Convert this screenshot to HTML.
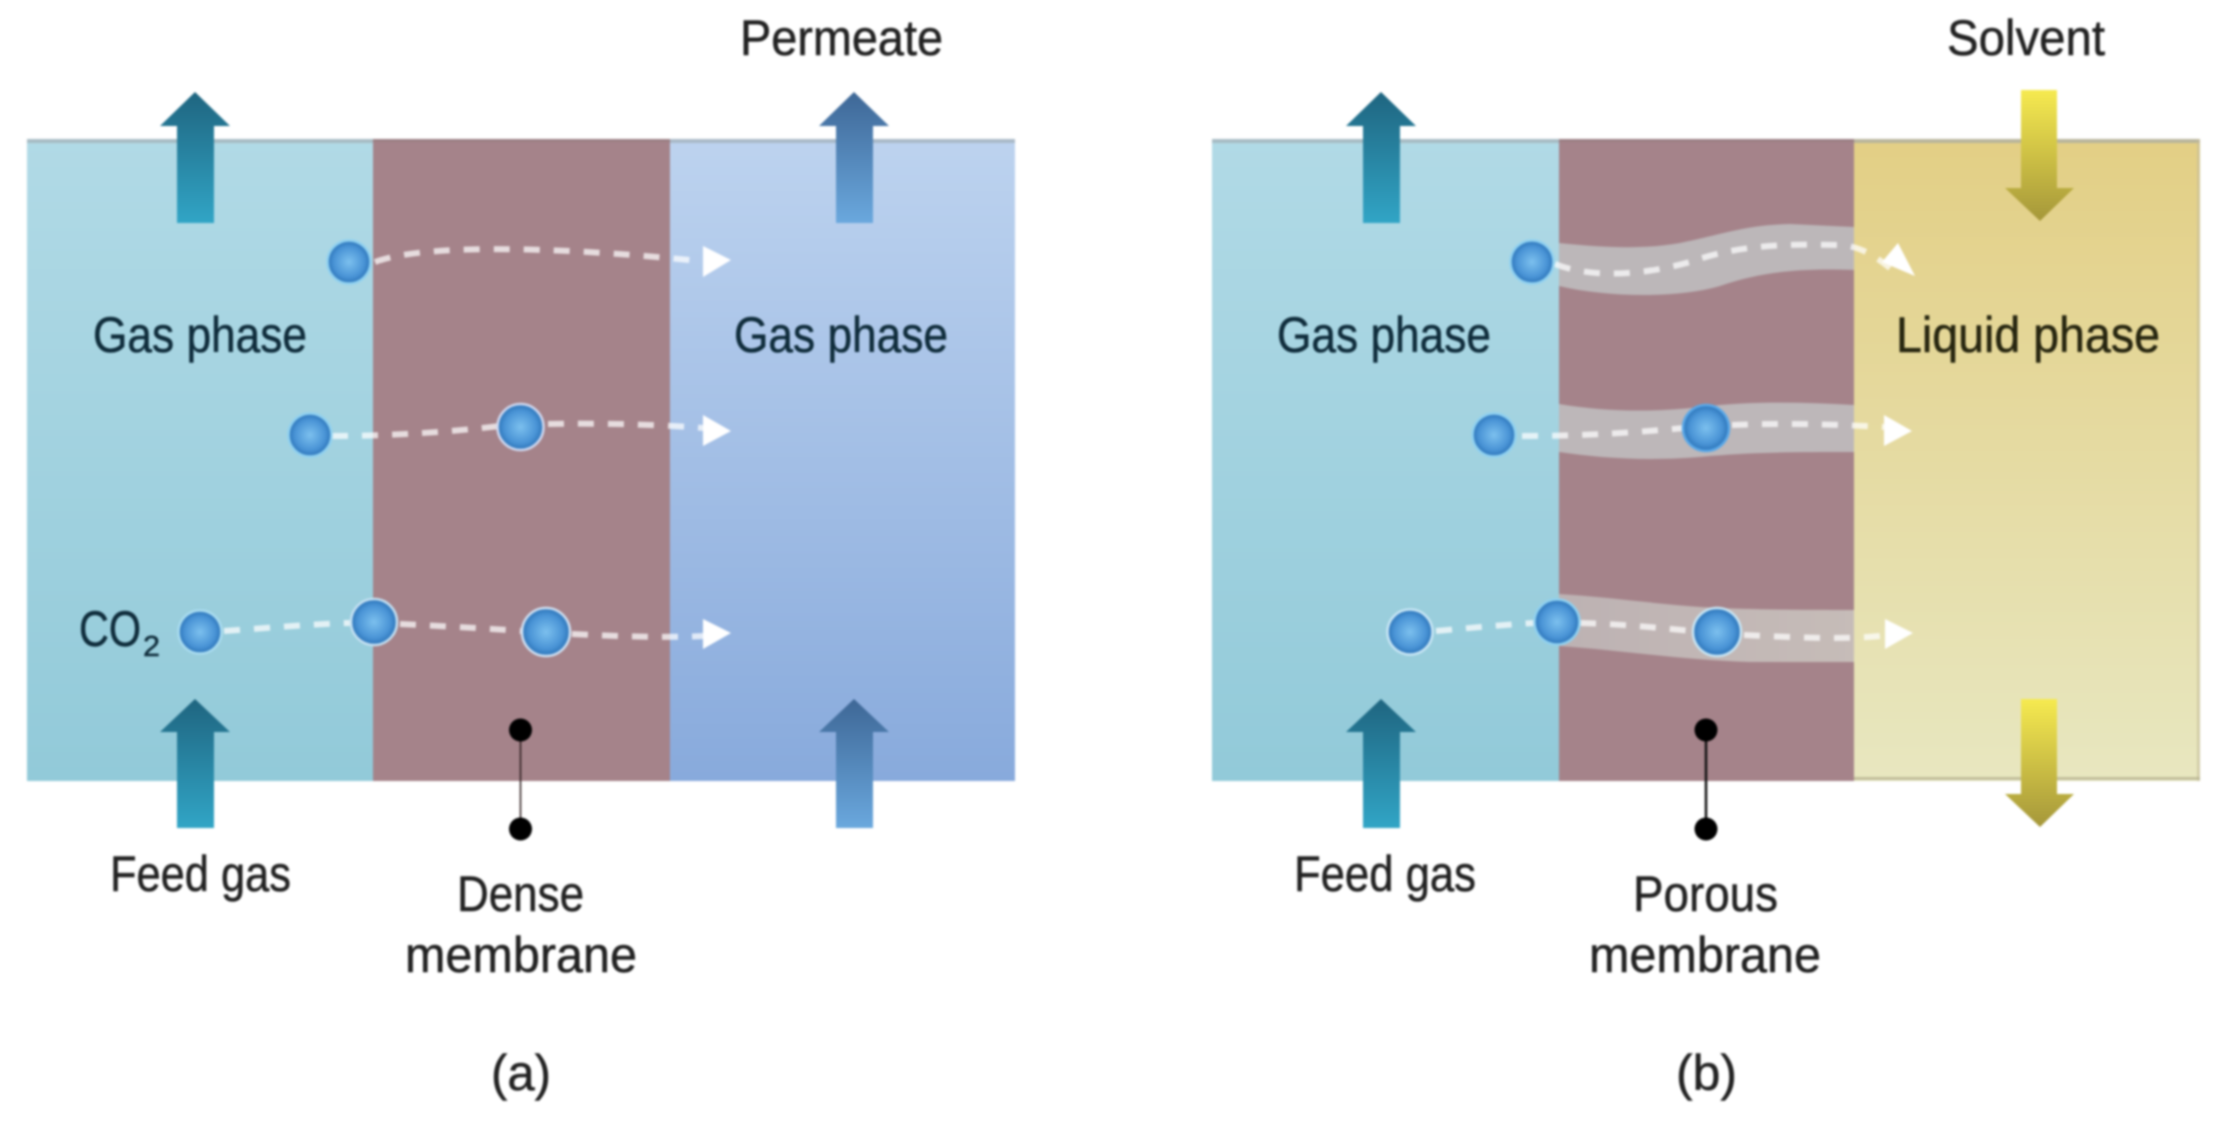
<!DOCTYPE html>
<html>
<head>
<meta charset="utf-8">
<style>
html,body{margin:0;padding:0;background:#fff;width:2223px;height:1121px;overflow:hidden}
svg{display:block;filter:blur(1px)}
text{font-family:"Liberation Sans",sans-serif;font-size:50px;fill:#222;stroke:#222;stroke-width:.5px}
.d{fill:#0f2c3b;stroke:#0f2c3b}
.l{fill:#26250f;stroke:#26250f}
.dash{fill:none;stroke:#fff;stroke-width:6;stroke-dasharray:16 14;opacity:.72}
</style>
</head>
<body>
<svg width="2223" height="1121" viewBox="0 0 2223 1121" xmlns="http://www.w3.org/2000/svg">
<defs>
<linearGradient id="gGas" x1="0" y1="0" x2="0" y2="1"><stop offset="0" stop-color="#b1dae6"/><stop offset="1" stop-color="#92cad9"/></linearGradient>
<linearGradient id="gBlue" x1="0" y1="0" x2="0" y2="1"><stop offset="0" stop-color="#bdd3ef"/><stop offset="1" stop-color="#88aadc"/></linearGradient>
<linearGradient id="gLiq" x1="0" y1="0" x2="0" y2="1"><stop offset="0" stop-color="#e3cf85"/><stop offset="1" stop-color="#e8e7c0"/></linearGradient>
<linearGradient id="aTeal" x1="0" y1="0" x2="0" y2="1"><stop offset="0" stop-color="#1f6580"/><stop offset="1" stop-color="#31a5c6"/></linearGradient>
<linearGradient id="aBlue" x1="0" y1="0" x2="0" y2="1"><stop offset="0" stop-color="#3e6796"/><stop offset="1" stop-color="#6aa8de"/></linearGradient>
<linearGradient id="aYel" x1="0" y1="0" x2="0" y2="1"><stop offset="0" stop-color="#f6ea50"/><stop offset="1" stop-color="#a5973a"/></linearGradient>
<radialGradient id="ball" cx=".5" cy=".5" r=".5"><stop offset="0" stop-color="#7cc0ee"/><stop offset=".7" stop-color="#4a94d6"/><stop offset="1" stop-color="#2c74b8"/></radialGradient>
<linearGradient id="ch3" x1="0" y1="0" x2="1" y2="0"><stop offset="0" stop-color="#bdb2b3"/><stop offset="1" stop-color="#c6bcb8"/></linearGradient>
</defs>

<!-- Panel a -->
<rect x="27" y="139" width="346" height="642" fill="url(#gGas)"/>
<rect x="373" y="139" width="297" height="642" fill="#a5838a"/>
<rect x="670" y="139" width="345" height="642" fill="url(#gBlue)"/>
<rect x="27" y="139" width="346" height="4" fill="#a7bcc4"/>
<rect x="670" y="139" width="345" height="4" fill="#a9b9c8"/>
<rect x="373" y="139" width="297" height="3" fill="#9b7f84"/>

<!-- Panel b -->
<rect x="1212" y="139" width="347" height="642" fill="url(#gGas)"/>
<rect x="1559" y="139" width="295" height="642" fill="#a5838a"/>
<rect x="1854" y="139" width="346" height="642" fill="url(#gLiq)"/>
<rect x="1212" y="139" width="347" height="4" fill="#a7bcc4"/>
<rect x="1559" y="139" width="295" height="3" fill="#9b7f84"/>
<rect x="1854" y="139" width="346" height="4" fill="#b9b59c"/>
<rect x="2197" y="139" width="3" height="642" fill="#c4bd9a" opacity=".6"/>
<rect x="1854" y="777" width="346" height="3" fill="#b8b592" opacity=".8"/>

<!-- Channels -->
<path d="M1559 243C1600 247 1640 250 1680 243C1720 235 1745 225 1790 224L1854 227L1854 270C1800 268 1760 272 1720 286C1680 298 1610 298 1559 286Z" fill="#bcb7b9"/>
<path d="M1559 404C1600 411 1650 413 1700 407C1750 401 1800 402 1854 405L1854 452C1800 452 1760 452 1710 456C1650 462 1600 458 1559 452Z" fill="#bdb7b9"/>
<path d="M1559 594C1620 598 1670 606 1720 608C1770 610 1810 610 1854 610L1854 662L1750 662C1680 660 1620 650 1559 646Z" fill="url(#ch3)"/>

<!-- Arrows up, panel a -->
<polygon points="195,92 230,126 214,126 214,223 177,223 177,126 160,126" fill="url(#aTeal)"/>
<polygon points="854,92 889,126 873,126 873,223 836,223 836,126 819,126" fill="url(#aBlue)"/>
<polygon points="195,699 230,732 214,732 214,828 177,828 177,732 160,732" fill="url(#aTeal)"/>
<polygon points="854,699 889,732 873,732 873,828 836,828 836,732 819,732" fill="url(#aBlue)"/>

<!-- Arrows, panel b -->
<polygon points="1381,92 1416,126 1400,126 1400,223 1363,223 1363,126 1346,126" fill="url(#aTeal)"/>
<polygon points="1381,699 1416,732 1400,732 1400,828 1363,828 1363,732 1346,732" fill="url(#aTeal)"/>
<polygon points="2021,90 2057,90 2057,188 2074,188 2040,221 2005,188 2021,188" fill="url(#aYel)"/>
<polygon points="2021,699 2057,699 2057,794 2074,794 2040,827 2005,794 2021,794" fill="url(#aYel)"/>

<!-- Dashed paths a -->
<path class="dash" d="M375 262C420 245 540 245 700 261"/>
<polygon points="703,246 731,260 703,277" fill="#fff"/>
<path class="dash" d="M332 436C390 436 450 432 500 426"/>
<path class="dash" d="M548 424C590 423 650 424 704 428"/>
<polygon points="703,415 731,431 703,446" fill="#fff"/>
<path class="dash" d="M224 631C270 628 310 624 350 623"/>
<path class="dash" d="M400 624C440 626 480 628 522 631"/>
<path class="dash" d="M572 634C610 636 660 638 704 636"/>
<polygon points="703,619 731,633 703,649" fill="#fff"/>

<!-- Dashed paths b -->
<path class="dash" d="M1555 264C1590 278 1640 276 1690 262C1740 244 1790 244 1840 245C1860 246 1875 256 1890 268"/>
<polygon points="1898,243 1915,276 1882,262" fill="#fff"/>
<path class="dash" d="M1522 436C1590 436 1640 432 1684 428"/>
<path class="dash" d="M1732 425C1780 423 1830 424 1884 427"/>
<polygon points="1884,415 1912,431 1884,446" fill="#fff"/>
<path class="dash" d="M1436 631C1470 628 1500 625 1534 623"/>
<path class="dash" d="M1580 623C1620 624 1650 627 1692 631"/>
<path class="dash" d="M1744 635C1790 637 1840 640 1880 636"/>
<polygon points="1885,619 1913,633 1885,649" fill="#fff"/>

<!-- Molecules a -->
<g stroke-width="2.5">
<circle cx="349" cy="262" r="21.5" fill="url(#ball)" stroke="#8fd0f0"/>
<circle cx="310" cy="435" r="21.5" fill="url(#ball)" stroke="#8fd0f0"/>
<circle cx="520.5" cy="427" r="23" fill="url(#ball)" stroke="#cfd8f0"/>
<circle cx="200" cy="632" r="21.5" fill="url(#ball)" stroke="#a9dcf0"/>
<circle cx="374" cy="622" r="23" fill="url(#ball)" stroke="#c4e0f2"/>
<circle cx="546" cy="632" r="24" fill="url(#ball)" stroke="#cfe0f2"/>
<!-- Molecules b -->
<circle cx="1532" cy="262" r="21.5" fill="url(#ball)" stroke="#8fd0f0"/>
<circle cx="1494" cy="435" r="21.5" fill="url(#ball)" stroke="#8fd0f0"/>
<circle cx="1706" cy="428" r="23" fill="url(#ball)" stroke="#5aa8e8"/>
<circle cx="1410" cy="632" r="22.5" fill="url(#ball)" stroke="#c8e6f5"/>
<circle cx="1557" cy="622" r="22.5" fill="url(#ball)" stroke="#8fd0f0"/>
<circle cx="1717" cy="632" r="24" fill="url(#ball)" stroke="#c8e6f5"/>
</g>

<!-- Leaders -->
<line x1="520.5" y1="730" x2="520.5" y2="828" stroke="#2a1a1c" stroke-width="1.5"/>
<circle cx="520.5" cy="730" r="11.5" fill="#000"/>
<circle cx="520.5" cy="829" r="11.5" fill="#000"/>
<line x1="1706" y1="730" x2="1706" y2="828" stroke="#111" stroke-width="2.5"/>
<circle cx="1706" cy="730" r="11.5" fill="#000"/>
<circle cx="1706" cy="829" r="11.5" fill="#000"/>

<!-- Text a -->
<text x="740" y="55" textLength="203" lengthAdjust="spacingAndGlyphs">Permeate</text>
<text class="d" x="93" y="352" textLength="214" lengthAdjust="spacingAndGlyphs">Gas phase</text>
<text class="d" x="734" y="352" textLength="214" lengthAdjust="spacingAndGlyphs">Gas phase</text>
<text class="d" x="79" y="646" textLength="62" lengthAdjust="spacingAndGlyphs">CO</text>
<text class="d" x="143" y="656" style="font-size:29px" textLength="17" lengthAdjust="spacingAndGlyphs">2</text>
<text x="110" y="891" textLength="181" lengthAdjust="spacingAndGlyphs">Feed gas</text>
<text x="457" y="911" textLength="127" lengthAdjust="spacingAndGlyphs">Dense</text>
<text x="405" y="972" textLength="232" lengthAdjust="spacingAndGlyphs">membrane</text>
<text x="491" y="1090" textLength="60" lengthAdjust="spacingAndGlyphs">(a)</text>

<!-- Text b -->
<text x="1947" y="55" textLength="158" lengthAdjust="spacingAndGlyphs">Solvent</text>
<text class="d" x="1277" y="352" textLength="214" lengthAdjust="spacingAndGlyphs">Gas phase</text>
<text class="l" x="1896" y="352" textLength="264" lengthAdjust="spacingAndGlyphs">Liquid phase</text>
<text x="1294" y="891" textLength="182" lengthAdjust="spacingAndGlyphs">Feed gas</text>
<text x="1633" y="911" textLength="145" lengthAdjust="spacingAndGlyphs">Porous</text>
<text x="1589" y="972" textLength="232" lengthAdjust="spacingAndGlyphs">membrane</text>
<text x="1676" y="1090" textLength="61" lengthAdjust="spacingAndGlyphs">(b)</text>
</svg>
</body>
</html>
